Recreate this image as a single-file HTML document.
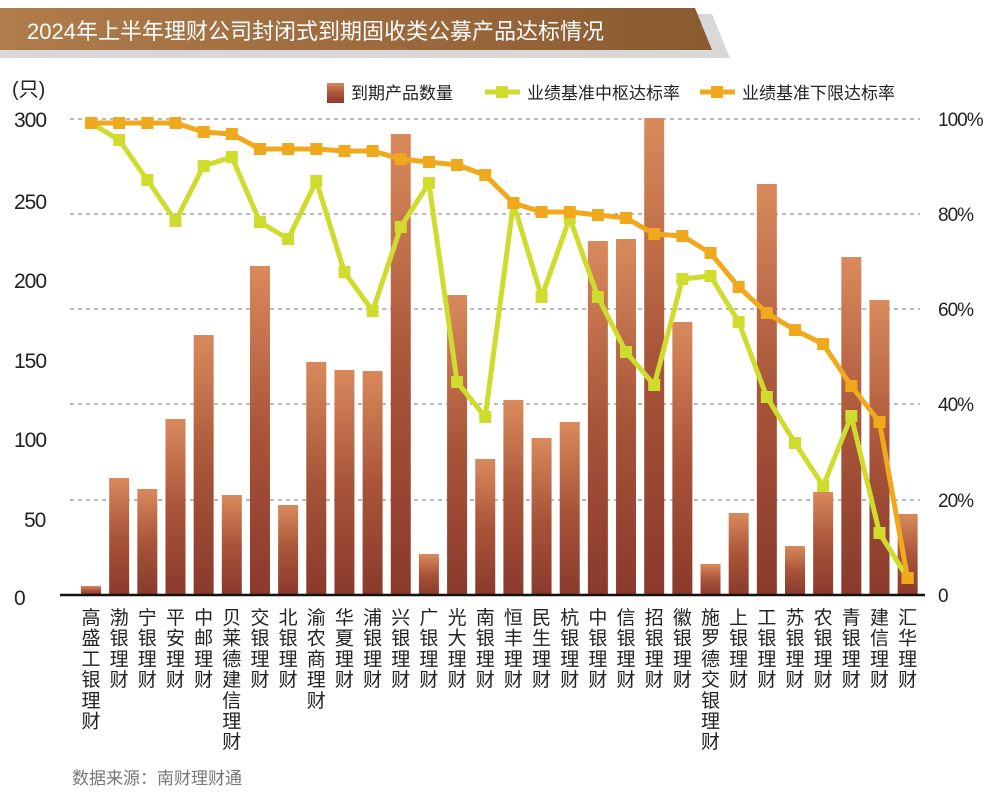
<!DOCTYPE html>
<html><head><meta charset="utf-8"><style>
html,body{margin:0;padding:0;background:#fff;width:1000px;height:808px;overflow:hidden}
svg{display:block}
text{font-family:"Liberation Sans","Noto Sans CJK SC",sans-serif}
</style></head><body>
<svg id="s" width="1000" height="808" viewBox="0 0 1000 808" xmlns="http://www.w3.org/2000/svg">
<defs>
<linearGradient id="bar" x1="0" y1="0" x2="0" y2="1">
<stop offset="0" stop-color="#d98a5c"/><stop offset="0.5" stop-color="#a9553a"/><stop offset="1" stop-color="#8a3a2c"/>
</linearGradient>
<linearGradient id="ban" x1="0" y1="0" x2="1" y2="0">
<stop offset="0" stop-color="#b07c4c"/><stop offset="1" stop-color="#8a5a30"/>
</linearGradient>
</defs>
<polygon points="0,14 712,14 730,58 0,58" fill="#d8d8d8"/>
<polygon points="0,8 695,8 712,50 0,50" fill="url(#ban)"/>
<text x="27" y="39" font-size="22" fill="#fff">2024年上半年理财公司封闭式到期固收类公募产品达标情况</text>
<text x="12" y="96" font-size="20" fill="#222">(只)</text>
<rect x="327" y="83" width="17" height="20" fill="url(#bar)"/>
<text x="351" y="99" font-size="17" fill="#222">到期产品数量</text>
<line x1="485" y1="92" x2="520" y2="92" stroke="#cfdc2e" stroke-width="5"/><rect x="496" y="86" width="12" height="12" fill="#cfdc2e"/>
<text x="527" y="99" font-size="17" fill="#222">业绩基准中枢达标率</text>
<line x1="700" y1="92" x2="735" y2="92" stroke="#f0a81c" stroke-width="5"/><rect x="711" y="86" width="12" height="12" fill="#f0a81c"/>
<text x="742" y="99" font-size="17" fill="#222">业绩基准下限达标率</text>
<g font-size="21" fill="#222" letter-spacing="-1">
<text x="14" y="127">300</text><text x="14" y="209">250</text><text x="14" y="288">200</text><text x="14" y="368">150</text><text x="14" y="447">100</text><text x="24" y="527">50</text><text x="14" y="605">0</text>
</g>
<g font-size="19" fill="#222" letter-spacing="-1">
<text x="938" y="126">100%</text><text x="938" y="221">80%</text><text x="938" y="316">60%</text><text x="938" y="411">40%</text><text x="938" y="507">20%</text><text x="938" y="602">0</text>
</g>
<g stroke="#777" stroke-width="1" stroke-dasharray="4,4">
<line x1="70" y1="119" x2="920" y2="119"/><line x1="70" y1="214" x2="920" y2="214"/><line x1="70" y1="309" x2="920" y2="309"/><line x1="70" y1="404" x2="920" y2="404"/><line x1="70" y1="500" x2="920" y2="500"/>
</g>
<g id="bars"></g>
<line x1="60" y1="595" x2="925" y2="595" stroke="#111" stroke-width="2.5"/>
<g id="lines"></g>
<g id="labels" font-size="19" fill="#222" text-anchor="middle"></g>
<text x="72" y="784" font-size="17" fill="#777">数据来源：南财理财通</text>
</svg>
<script>
var names=["高盛工银理财","渤银理财","宁银理财","平安理财","中邮理财","贝莱德建信理财","交银理财","北银理财","渝农商理财","华夏理财","浦银理财","兴银理财","广银理财","光大理财","南银理财","恒丰理财","民生理财","杭银理财","中银理财","信银理财","招银理财","徽银理财","施罗德交银理财","上银理财","工银理财","苏银理财","农银理财","青银理财","建信理财","汇华理财"];
var tops=[586,478,489,419,335,495,266,505,362,370,371,134,554,295,459,400,438,422,241,239,118,322,564,513,184,546,492,257,300,514];
var g=[123,140,180,221,166,157,222,239,181,272,311,227,183,382,417,203,297,218,297,352,385,279,276,322,397,443,486,416,533,578];
var o=[123,123,123,123,132,134,149,149,149,151,151,159,162,165,175,203,212,212,215,218,234,236,253,287,313,330,344,386,422,578];
var NS="http://www.w3.org/2000/svg";
function el(t,a,p){var e=document.createElementNS(NS,t);for(var k in a)e.setAttribute(k,a[k]);p.appendChild(e);return e;}
var B=document.getElementById("bars"),L=document.getElementById("lines"),T=document.getElementById("labels");
var cx=[];for(var i=0;i<30;i++)cx.push(91+28.16*i);
for(var i=0;i<30;i++){el("rect",{x:cx[i]-10,y:tops[i],width:20,height:595-tops[i],fill:"url(#bar)"},B);
 var n=names[i];for(var j=0;j<n.length;j++){var t=el("text",{x:cx[i],y:624+j*20.7},T);t.textContent=n[j];}}
function line(d,c){var p=d.map(function(y,i){return cx[i].toFixed(1)+","+y}).join(" ");
 el("polyline",{points:p,fill:"none",stroke:c,"stroke-width":5,"stroke-linejoin":"round"},L);
 d.forEach(function(y,i){el("rect",{x:cx[i]-6,y:y-6,width:12,height:12,fill:c},L);});}
line(g,"#cfdc2e");line(o,"#f0a81c");
</script>
</body></html>
